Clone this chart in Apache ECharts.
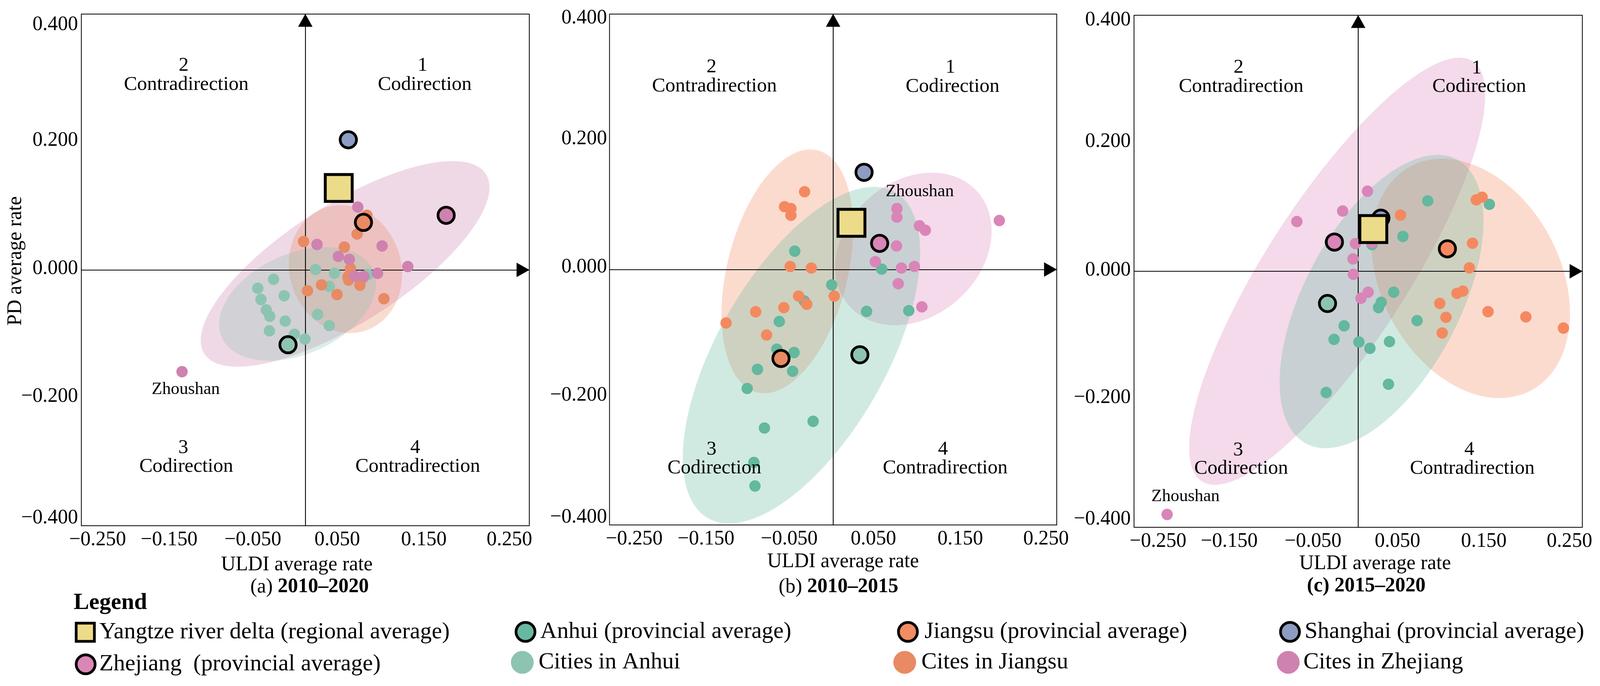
<!DOCTYPE html>
<html>
<head>
<meta charset="utf-8">
<title>ULDI and PD average rate</title>
<script src="https://cdn.jsdelivr.net/npm/echarts@6/dist/echarts.min.js"></script>
<style>html,body{margin:0;padding:0;background:#fff;overflow:hidden}#c{height:1755px}</style>
</head>
<body>
<div id="c"></div>
<script>
// ---- tick values and labels
const xTicks = [-0.25, -0.15, -0.05, 0.05, 0.15, 0.25];
const yTicks = [0.4, 0.2, 0, -0.2, -0.4];
const xTickLabels = ['−0.250', '−0.150', '−0.050', '0.050', '0.150', '0.250'];
const yTickLabels = ['0.400', '0.200', '0.000', '−0.200', '−0.400'];

// ---- panel (a) 2010-2020: [ULDI rate, PD rate]
const aAnhuiCities = [[.0114,.0006],[.0326,-.0053],[.0700,-.0070],[.0267,-.0257],[-.0354,-.0146],[-.0531,-.0287],[-.0495,-.0462],[-.0236,-.0404],[-.0436,-.0626],[-.0397,-.0725],[-.0224,-.0801],[-.0401,-.0953],[-.0122,-.1006],[-.0004,-.1082],[.0138,-.0696],[.0267,-.0871]];
const aJiangsuCities = [[-.0020,.0444],[.0436,.0357],[.0578,.0561],[.0688,.0854],[.0503,.0023],[.0476,-.0111],[.0483,-.0158],[.0609,-.0240],[.0641,-.0123],[.0181,-.0234],[.0024,-.0327],[.0354,-.0386],[.0877,-.0450]];
const aZhejiangCities = [[.0586,.0982],[.0130,.0398],[.0857,.0374],[.0369,.0211],[.0491,.0164],[.1144,.0053],[.0806,-.0053],[.0550,-.0094],[.0653,-.0099],[-.1376,-.1591]];
const aYangtze = [.0373,.1281], aShanghai = [.0480,.2035], aJiangsu = [.0649,.0743], aZhejiang = [.1572,.0854], aAnhui = [-.0193,-.1170];
// ellipses: [centre x, centre y, half extent x, half extent y, correlation]
const aEllZhejiang = [.0444,.0094,.1612,.1608,.744], aEllJiangsu = [.0448,.0012,.0633,.1000,-.08], aEllAnhui = [-.0086,-.0532,.0877,.0889,.36];

// ---- panel (b) 2010-2015
const bAnhuiCities = [[-.0429,.0287],[.0543,.0006],[-.0016,-.0240],[-.0323,-.0492],[-.0602,-.0814],[.0374,-.0656],[.0846,-.0644],[-.0630,-.1247],[-.0437,-.1300],[-.0846,-.1563],[-.0453,-.1593],[-.0961,-.1862],[-.0224,-.2377],[-.0768,-.2482],[-.0886,-.3021],[-.0874,-.3390]];
const bJiangsuCities = [[-.0319,.1218],[-.0543,.0984],[-.0472,.0954],[-.0472,.0849],[-.0480,.0047],[-.0244,.0023],[-.0386,-.0416],[.0012,-.0416],[-.0295,-.0544],[-.0551,-.0597],[-.0866,-.0662],[-.1197,-.0837],[-.0744,-.1025]];
const bZhejiangCities = [[.0713,.0954],[.0713,.0820],[.1858,.0767],[.0965,.0685],[.1031,.0615],[.0709,.0369],[.0472,.0123],[.0764,.0023],[.0909,.0047],[.0728,-.0222],[.0992,-.0585]];
const bYangtze = [.0205,.0732], bShanghai = [.0346,.1522], bJiangsu = [-.0583,-.1393], bZhejiang = [.0520,.0410], bAnhui = [.0299,-.1335];
const bEllZhejiang = [.0898,.0322,.0874,.1194,.235], bEllJiangsu = [-.0512,-.0029,.0736,.1909,.35], bEllAnhui = [-.0354,-.1341,.1327,.2635,.61];

// ---- panel (c) 2015-2020
const cAnhuiCities = [[.0776,.1099],[.1463,.1046],[.0499,.0544],[.0154,.0415],[-.0311,.0456],[.0396,-.0327],[.0257,-.0485],[.0227,-.0567],[.0657,-.0771],[-.0157,-.0853],[-.0269,-.1064],[.0008,-.1105],[.0131,-.1204],[.0349,-.1099],[-.0357,-.1894],[.0338,-.1765]];
const cJiangsuCities = [[.0472,.0877],[.1317,.1116],[.1382,.1157],[.1275,.0438],[.1240,.0053],[.1167,-.0310],[.1102,-.0345],[.0910,-.0503],[.0979,-.0719],[.0937,-.0964],[.1448,-.0631],[.1870,-.0713],[.2289,-.0888]];
const cZhejiangCities = [[.0104,.1251],[-.0173,.0941],[-.0684,.0777],[-.0031,.0432],[.0154,.0450],[-.0058,.0193],[-.0054,-.0047],[.0111,-.0327],[.0031,-.0421],[-.2131,-.3799]];
const cYangtze = [.0169,.0660], cShanghai = [.0253,.0830], cJiangsu = [.0995,.0351], cZhejiang = [-.0265,.0456], cAnhui = [-.0342,-.0503];
const cEllZhejiang = [-.0234,0,.1651,.3337,.826], cEllJiangsu = [.1256,-.0111,.1106,.1870,-.29], cEllAnhui = [.0261,-.0473,.1137,.2291,.55];

// ---- names
const N = {
  yrd: 'Yangtze river delta (regional average)', ah: 'Anhui (provincial average)', js: 'Jiangsu (provincial average)',
  sh: 'Shanghai (provincial average)', zj: 'Zhejiang  (provincial average)', ahc: 'Cities in Anhui', jsc: 'Cites in Jiangsu', zjc: 'Cites in Zhejiang'
};

// ---- layout: designed on the reference width, fitted to the width the window really has
const DESIGN_W = 4347;
const W = Math.min(window.innerWidth || DESIGN_W, DESIGN_W);
const sx = W / DESIGN_W;
const X = function (v) { return v * sx; };
const F = function (v) { return v * sx; };
const S = function (v) { return v * (1 + sx) / 2; };
document.getElementById('c').style.width = W + 'px';

const FONT = 'Liberation Serif';
const INK = '#000';
const muted = {ah: '#8DC4B1', js: '#E88A63', zj: '#CE82B0'};
const bright = {ah: '#63B89E', js: '#F4895F', zj: '#D985B8'};
const panels = [
  {grid:{left:221,top:36,width:1217,height:1309}, cols:muted, avgCols:muted, nameGap:74, namePad:[0,46,0,0],
   xShift:[44,-5,-21,-35,-43,-54], yShift:[27,-4,-3,-3,-20], yMargin:9, yName:true,
   cities:[aAnhuiCities,aJiangsuCities,aZhejiangCities], avg:[aYangtze,aShanghai,aJiangsu,aZhejiang,aAnhui], ell:[aEllZhejiang,aEllJiangsu,aEllAnhui],
   zhou:{i:9,pos:'bottom',offset:[10,4]},
   quad:[[499,168,'2'],[506,217,'Contradirection'],[1148,168,'1'],[1154,217,'Codirection'],[498,1146,'3'],[506,1194,'Codirection'],[1128,1146,'4'],[1135,1194,'Contradirection']]},
  {grid:{left:1656,top:36,width:1215,height:1307}, cols:bright, avgCols:{ah:muted.ah,js:muted.js,zj:bright.zj}, nameGap:68, namePad:[0,0,0,54],
   xShift:[67,19,2,-12,-19,-29], yShift:[10,-7,-6,-5,-20], yMargin:7,
   cities:[bAnhuiCities,bJiangsuCities,bZhejiangCities], avg:[bYangtze,bShanghai,bJiangsu,bZhejiang,bAnhui], ell:[bEllZhejiang,bEllJiangsu,bEllAnhui],
   zhou:{i:0,pos:'top',offset:[62,-2]},
   quad:[[1933,172,'2'],[1941,221,'Contradirection'],[2582,173,'1'],[2588,222,'Codirection'],[1933,1150,'3'],[1941,1198,'Codirection'],[2562,1150,'4'],[2568,1198,'Contradirection']]},
  {grid:{left:3081,top:39,width:1218,height:1310}, cols:bright, avgCols:{ah:muted.ah,js:bright.js,zj:bright.zj}, nameGap:62, namePad:[0,0,0,92],
   xShift:[65,15,-1,-15,-24,-35], yShift:[12,-4,-3,-4,-21], yMargin:9,
   cities:[cAnhuiCities,cJiangsuCities,cZhejiangCities], avg:[cYangtze,cShanghai,cJiangsu,cZhejiang,cAnhui], ell:[cEllZhejiang,cEllJiangsu,cEllAnhui],
   zhou:{i:9,pos:'top',offset:[50,-4]},
   quad:[[3365,173,'2'],[3372,222,'Contradirection'],[4012,175,'1'],[4019,222,'Codirection'],[3364,1152,'3'],[3372,1199,'Codirection'],[3992,1151,'4'],[4000,1199,'Contradirection']]}
];
const captions = [
  {x:841, y:1502, head:'(a) ', rest:'2010–2020', headBold:false},
  {x:2278,y:1502, head:'(b) ', rest:'2010–2015', headBold:false},
  {x:3712,y:1500, head:'(c) ', rest:'2015–2020', headBold:true}
];

const XR = .25, YR = .4;
const grids = [], xAxes = [], yAxes = [], series = [], graphics = [];

function ellipseItem(color) {
  return function (params, api) {
    const cx = api.value(0), cy = api.value(1), hx = api.value(2), hy = api.value(3), r = api.value(4);
    const pts = [];
    for (let k = 0; k < 180; k++) {
      const t = k / 180 * 2 * Math.PI;
      pts.push(api.coord([cx + hx * Math.cos(t), cy + hy * (r * Math.cos(t) + Math.sqrt(1 - r * r) * Math.sin(t))]));
    }
    return {type:'polygon', shape:{points:pts}, style:{fill:color, opacity:.3}, silent:true};
  };
}

panels.forEach(function (p, i) {
  grids.push({show:true, borderColor:INK, borderWidth:2, backgroundColor:'transparent', containLabel:false, outerBoundsMode:'none',
    left:X(p.grid.left), top:p.grid.top, width:X(p.grid.width), height:p.grid.height});
  const xPx = p.grid.width / (2 * XR), yPx = p.grid.height / (2 * YR);
  const xVals = xTicks.map(function (v, k) { return v + p.xShift[k] / xPx; });
  const yVals = yTicks.map(function (v, k) { return v - p.yShift[k] / yPx; });
  xAxes.push({gridIndex:i, type:'value', min:-XR, max:XR, position:'bottom', splitLine:{show:false}, axisTick:{show:false},
    axisLine:{show:false, onZero:false},
    name:'ULDI average rate', nameLocation:'middle', nameGap:p.nameGap,
    nameTextStyle:{fontFamily:FONT, fontSize:F(55), color:INK, padding:p.namePad.map(X)},
    axisLabel:{customValues:xVals, margin:10, fontFamily:FONT, fontSize:F(55), color:INK,
      formatter:function (v) { return xTickLabels[xVals.indexOf(v)]; }}});
  xAxes.push({gridIndex:i, type:'value', min:-XR, max:XR, position:'top', z:3, splitLine:{show:false}, axisTick:{show:false}, axisLabel:{show:false},
    axisLine:{show:true, onZero:true, lineStyle:{color:INK, width:2.2}, symbol:['none','triangle'], symbolSize:[37,33], symbolOffset:[0,-16]}});
  yAxes.push({gridIndex:i, type:'value', min:-YR, max:YR, position:'left', splitLine:{show:false}, axisTick:{show:false},
    axisLine:{show:false, onZero:false},
    name:p.yName ? 'PD average rate' : '', nameLocation:'middle', nameGap:180 * sx - 28, nameMoveOverlap:false,
    nameTextStyle:{fontFamily:FONT, fontSize:F(55), color:INK, padding:[0,0,0,46]},
    axisLabel:{customValues:yVals, margin:p.yMargin * sx, fontFamily:FONT, fontSize:F(55), color:INK,
      formatter:function (v) { return yTickLabels[yVals.indexOf(v)]; }}});
  yAxes.push({gridIndex:i, type:'value', min:-YR, max:YR, position:'right', z:3, splitLine:{show:false}, axisTick:{show:false}, axisLabel:{show:false},
    axisLine:{show:true, onZero:true, lineStyle:{color:INK, width:2.2}, symbol:['none','triangle'], symbolSize:[37,33], symbolOffset:[0,-16]}});
  const xi = i * 2, yi = i * 2;

  [[p.ell[0],p.cols.zj,'Zhejiang'],[p.ell[1],p.cols.js,'Jiangsu'],[p.ell[2],p.cols.ah,'Anhui']].forEach(function (e) {
    series.push({type:'custom', name:e[2] + ' cities ellipse', xAxisIndex:xi, yAxisIndex:yi, z:1, silent:true, clip:false,
      renderItem:ellipseItem(e[1]), data:[e[0]], encode:{x:0, y:1}});
  });
  [[p.cities[0],p.cols.ah,N.ahc],[p.cities[1],p.cols.js,N.jsc],[p.cities[2],p.cols.zj,N.zjc]].forEach(function (s, k) {
    const data = k === 2 ? s[0].map(function (d, j) {
      return j === p.zhou.i ? {value:d, label:{show:true, position:p.zhou.pos, offset:p.zhou.offset.map(X), formatter:'Zhoushan', fontFamily:FONT, fontSize:F(47), color:INK}} : d;
    }) : s[0];
    series.push({type:'scatter', name:s[2], xAxisIndex:xi, yAxisIndex:yi, z:5+k, symbol:'circle', symbolSize:S(30), itemStyle:{color:s[1], opacity:1}, data:data});
  });
  [[p.avg[1],'#8D9CC3',N.sh],[p.avg[4],p.avgCols.ah,N.ah],[p.avg[2],p.avgCols.js,N.js],[p.avg[3],p.avgCols.zj,N.zj]].forEach(function (s) {
    series.push({type:'scatter', name:s[2], xAxisIndex:xi, yAxisIndex:yi, z:9, symbol:'circle', symbolSize:S(43),
      itemStyle:{color:s[1], borderColor:'#050300', borderWidth:7, opacity:1}, data:[s[0]]});
  });
  series.push({type:'scatter', name:N.yrd, xAxisIndex:xi, yAxisIndex:yi, z:10, symbol:'rect', symbolSize:S(71),
    itemStyle:{color:'#ECDC8A', borderColor:'#050300', borderWidth:7.5, opacity:1}, data:[p.avg[0]]});

  p.quad.forEach(function (q) {
    graphics.push({type:'text', x:X(q[0]), y:q[1], z:20, style:{text:q[2], fontFamily:FONT, fontSize:F(54), fill:INK, textAlign:'center', textVerticalAlign:'middle'}});
  });
});

captions.forEach(function (c) {
  graphics.push({type:'text', x:X(c.x), y:c.y, z:20, style:{
    text:'{h|' + c.head + '}{b|' + c.rest + '}', textAlign:'center', textVerticalAlign:'middle', fontFamily:FONT, fontSize:F(55), fill:INK,
    rich:{h:{fontFamily:FONT, fontSize:F(55), fill:INK, fontWeight:c.headBold ? 'bold' : 'normal'}, b:{fontFamily:FONT, fontSize:F(55), fill:INK, fontWeight:'bold'}}}});
});
graphics.push({type:'text', x:X(200), y:1543, z:20, style:{text:'Legend', fontFamily:FONT, fontSize:F(63), fontWeight:'bold', fill:INK, textVerticalAlign:'middle'}});

function legendAt(name, left, top, icon, size, color, borderWidth, gap) {
  const s = S(size);
  return {left:X(left + size / 2) - s / 2, top:top, orient:'horizontal', icon:icon, itemWidth:s, itemHeight:s, padding:0, selectedMode:false,
    textStyle:{fontFamily:FONT, fontSize:F(63), color:INK, padding:[0,0,0,X(gap)]},
    data:[{name:name, icon:icon, itemStyle:{color:color, borderColor:borderWidth ? '#050300' : color, borderWidth:borderWidth, opacity:1}}]};
}
const legends = [
  legendAt(N.yrd, 204, 1588, 'rect', 48, '#ECDC8A', 7, 8),
  legendAt(N.ah, 1399, 1587, 'circle', 50, '#66B9A0', 7, 9),
  legendAt(N.js, 2438, 1587, 'circle', 50, '#F28C62', 7, 14),
  legendAt(N.sh, 3476, 1587, 'circle', 50, '#8D9CC3', 7, 9),
  legendAt(N.zj, 204, 1670, 'circle', 50, '#DA87B8', 7, 6),
  legendAt(N.ahc, 1389, 1665, 'circle', 60, '#8DC4B1', 0, 8),
  legendAt(N.jsc, 2428, 1665, 'circle', 60, '#E88A63', 0, 9),
  legendAt(N.zjc, 3470, 1665, 'circle', 60, '#CE82B0', 0, 5)
];

const chart = echarts.init(document.getElementById('c'), null, {renderer:'canvas', width:W, height:1755});
chart.setOption({
  animation:false, backgroundColor:'#fff', textStyle:{fontFamily:FONT},
  grid:grids, xAxis:xAxes, yAxis:yAxes, series:series, legend:legends, graphic:{elements:graphics}
});
</script>
</body>
</html>
